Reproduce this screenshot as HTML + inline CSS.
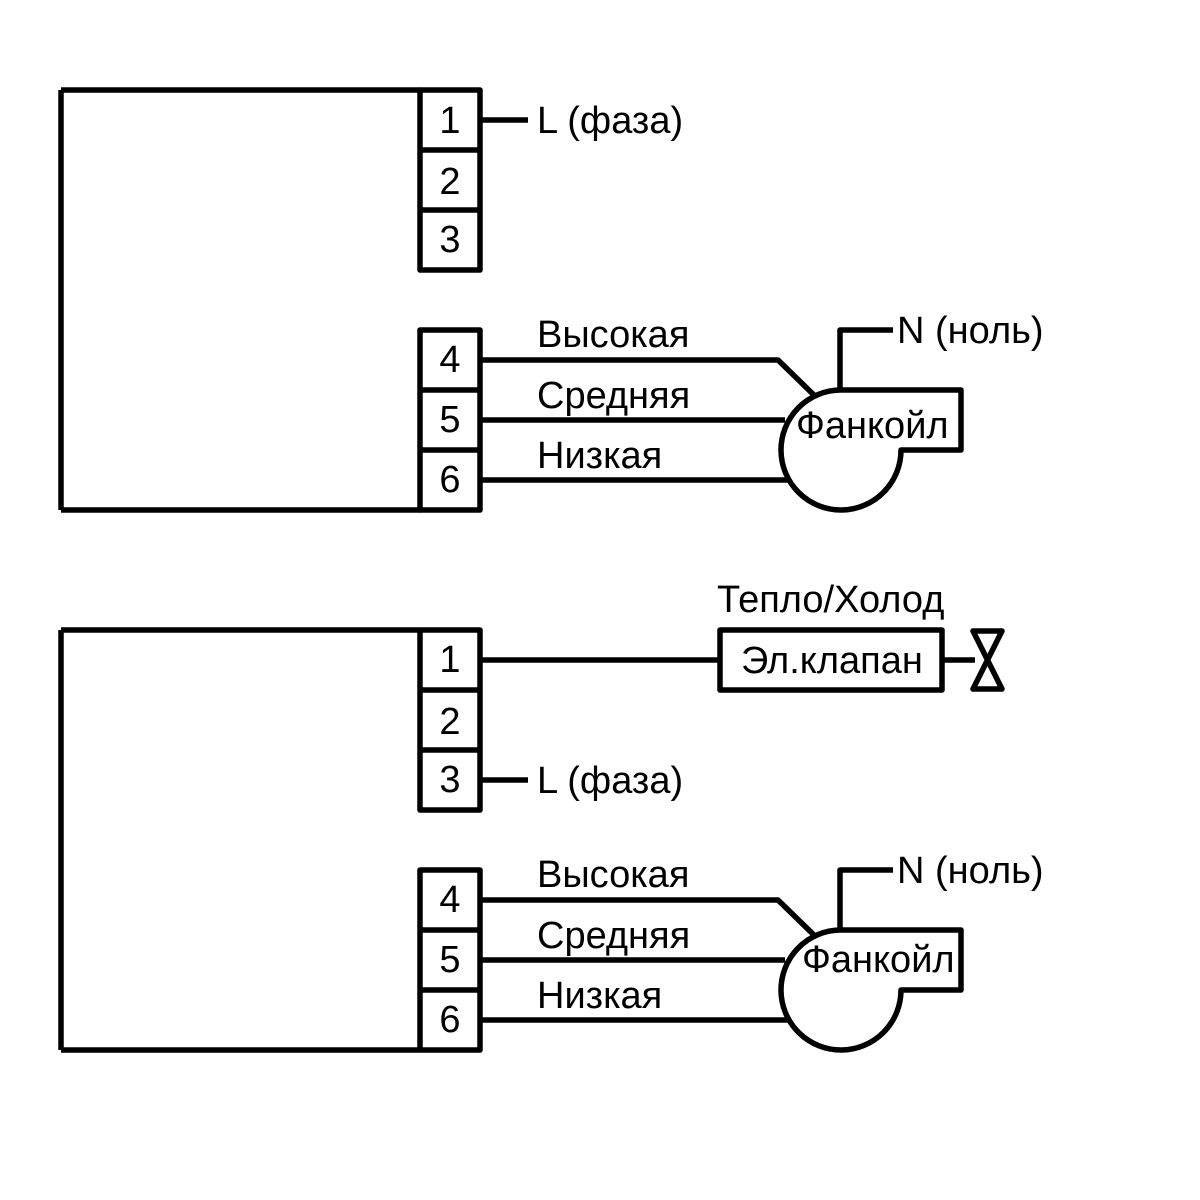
<!DOCTYPE html>
<html><head><meta charset="utf-8"><style>
html,body{margin:0;padding:0;background:#fff;}
svg{display:block}
text{font-family:"Liberation Sans",sans-serif;font-size:38px;fill:#000}
</style></head><body>
<svg width="1200" height="1200" viewBox="0 0 1200 1200" xmlns="http://www.w3.org/2000/svg">
<g fill="none" stroke="#000" stroke-width="5.5" stroke-linejoin="round">
<path d="M61 90 V510 M61 90 H420 M61 510 H420"/>
<rect x="420" y="90" width="60" height="180"/>
<path d="M420 150 H480 M420 210 H480"/>
<rect x="420" y="330" width="60" height="180"/>
<path d="M420 390 H480 M420 450 H480"/>
<path d="M480 120 H528"/>
<path d="M480 360 H778 L815 396"/>
<path d="M480 420 H785"/>
<path d="M480 480 H788"/>
<path d="M840 390 V330 H893"/>
<path d="M840 390 H961 V450 H901 A60 60 0 1 1 840 390 Z" fill="#fff"/>
<path d="M61 630 V1050 M61 630 H420 M61 1050 H420"/>
<rect x="420" y="630" width="60" height="180"/>
<path d="M420 690 H480 M420 750 H480"/>
<rect x="420" y="870" width="60" height="180"/>
<path d="M420 930 H480 M420 990 H480"/>
<path d="M480 660 H720"/>
<rect x="720" y="630" width="222" height="60"/>
<path d="M942 660 H975"/>
<path d="M973 631 H1002 L973 689 H1002 Z"/>
<path d="M480 780 H528"/>
<path d="M480 900 H778 L815 936"/>
<path d="M480 960 H785"/>
<path d="M480 1020 H788"/>
<path d="M840 930 V870 H893"/>
<path d="M840 930 H961 V990 H901 A60 60 0 1 1 840 930 Z" fill="#fff"/>
</g>
<g text-anchor="middle">
<text x="450" y="133">1</text><text x="450" y="194">2</text><text x="450" y="252">3</text>
<text x="450" y="372">4</text><text x="450" y="432">5</text><text x="450" y="492">6</text>
<text x="450" y="672">1</text><text x="450" y="734">2</text><text x="450" y="792">3</text>
<text x="450" y="912">4</text><text x="450" y="972">5</text><text x="450" y="1032">6</text>
</g>
<text x="537" y="133">L (фаза)</text>
<text x="537" y="347">Высокая</text>
<text x="537" y="408">Средняя</text>
<text x="537" y="468">Низкая</text>
<text x="897" y="343">N (ноль)</text>
<text x="796" y="438">Фанкойл</text>
<text x="717" y="612">Тепло/Холод</text>
<text x="741" y="673">Эл.клапан</text>
<text x="537" y="793">L (фаза)</text>
<text x="537" y="887">Высокая</text>
<text x="537" y="948">Средняя</text>
<text x="537" y="1008">Низкая</text>
<text x="897" y="883">N (ноль)</text>
<text x="802" y="972">Фанкойл</text>
</svg>
</body></html>
